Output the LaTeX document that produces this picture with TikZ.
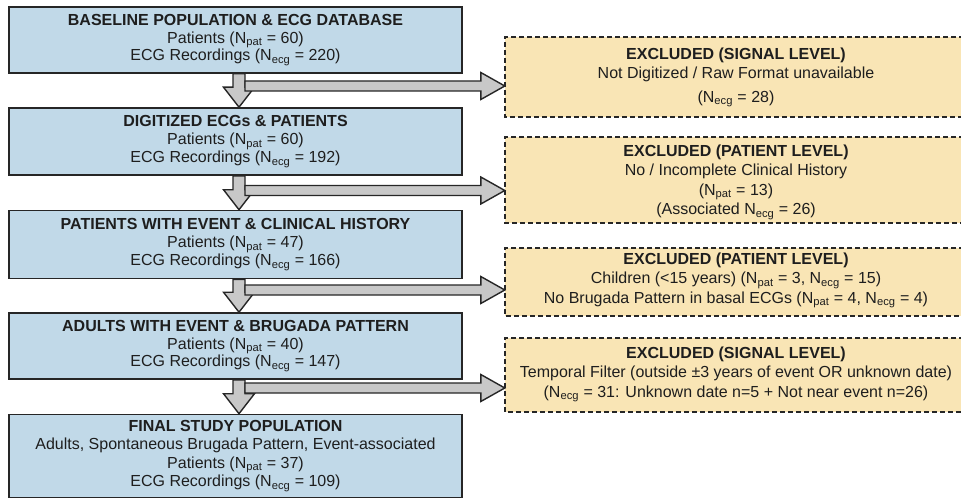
\documentclass[tikz,border=0pt]{standalone}
\usepackage{fontspec}
\setmainfont{Liberation Sans}
\usetikzlibrary{calc}
\definecolor{bluefill}{HTML}{C1D9E8}
\definecolor{yelfill}{HTML}{F9E5B5}
\definecolor{edgec}{HTML}{262626}
\definecolor{arrowgray}{HTML}{C8C8C8}
\definecolor{txtc}{HTML}{1E1E1E}
\newcommand{\lo}[1]{\textsubscript{#1}}
\newcommand{\vflow}[2]{%
  \draw[blockarrow] ($(#1.south -| ax)+(-6,0)$) -- ($(#1.south -| ax)+(6,0)$)
    -- ($(#2.north -| ax)+(6,-20)$) -- ($(#2.north -| ax)+(15.5,-20)$)
    -- (#2.north -| ax) -- ($(#2.north -| ax)+(-15.5,-20)$)
    -- ($(#2.north -| ax)+(-6,-20)$) -- cycle;}
\newcommand{\hflow}[2]{%
  \draw[blockarrow] ($(#1 -| ax)+(6,-5)$) -- ($(#2.west |- #1)+(-24,-5)$)
    -- ($(#2.west |- #1)+(-24,-13.5)$) -- (#2.west |- #1)
    -- ($(#2.west |- #1)+(-24,13.5)$) -- ($(#2.west |- #1)+(-24,5)$)
    -- ($(#1 -| ax)+(6,5)$) -- cycle;}
\newcommand{\exframe}[2]{%
  \fill[yelfill] (505,#1) rectangle (1100,#2);
  \draw[exrect] (1100,#1) -- (505,#1) -- (505,#2) -- (1100,#2);}
\begin{document}
\begin{tikzpicture}[x=1pt,y=-1pt,
  mainbox/.style={draw=edgec, line width=1.6pt, fill=bluefill, minimum width=453pt,
    inner sep=0pt, align=center, text=txtc, font=\fontsize{16}{17.8}\selectfont},
  exrect/.style={draw=edgec, line width=1.6pt, dash pattern=on 5pt off 3pt},
  extext/.style={minimum width=462pt, inner sep=0pt, align=center, text=txtc,
    font=\fontsize{16}{19.5}\selectfont},
  blockarrow/.style={draw=edgec, line width=1.4pt, fill=arrowgray, line join=miter}]
\useasboundingbox (0,0) rectangle (961,500);
\clip (0,0) rectangle (961,500);
\fill[white] (0,0) rectangle (961,500);
\coordinate (ax) at (239,0);
\coordinate (h1) at (0,86);
\coordinate (h2) at (0,190.5);
\coordinate (h3) at (0,290);
\coordinate (h4) at (0,388);

\node[mainbox, minimum height=66pt] (b1) at (235.5,40)
  {\textbf{BASELINE POPULATION \& ECG DATABASE}\\Patients (N\lo{pat} = 60)\\ECG Recordings (N\lo{ecg} = 220)};
\node[mainbox, minimum height=67pt] (b2) at (235.5,141.5)
  {\textbf{DIGITIZED ECGs \& PATIENTS}\\Patients (N\lo{pat} = 60)\\ECG Recordings (N\lo{ecg} = 192)};
\node[mainbox, minimum height=68pt] (b3) at (235.5,244.5)
  {\textbf{PATIENTS WITH EVENT \& CLINICAL HISTORY}\\Patients (N\lo{pat} = 47)\\ECG Recordings (N\lo{ecg} = 166)};
\node[mainbox, minimum height=66pt] (b4) at (235.5,346)
  {\textbf{ADULTS WITH EVENT \& BRUGADA PATTERN}\\Patients (N\lo{pat} = 40)\\ECG Recordings (N\lo{ecg} = 147)};
\node[mainbox, minimum height=83pt, font=\fontsize{16}{18.3}\selectfont] (b5) at (235.5,456)
  {\textbf{FINAL STUDY POPULATION}\\Adults, Spontaneous Brugada Pattern, Event-associated\\Patients (N\lo{pat} = 37)\\ECG Recordings (N\lo{ecg} = 109)};

\exframe{37}{117}
\node[extext] (e1) at (736,77.5)
  {\textbf{EXCLUDED (SIGNAL LEVEL)}\\Not Digitized / Raw Format unavailable\\[4pt](N\lo{ecg} = 28)};
\exframe{137}{223}
\node[extext] (e2) at (736,182)
  {\textbf{EXCLUDED (PATIENT LEVEL)}\\No / Incomplete Clinical History\\(N\lo{pat} = 13)\\(Associated N\lo{ecg} = 26)};
\exframe{248}{316}
\node[extext] (e3) at (736,280.5)
  {\textbf{EXCLUDED (PATIENT LEVEL)}\\Children (<15 years) (N\lo{pat} = 3, N\lo{ecg} = 15)\\No Brugada Pattern in basal ECGs (N\lo{pat} = 4, N\lo{ecg} = 4)};
\exframe{338}{412}
\node[extext] (e4) at (736,374.5)
  {\textbf{EXCLUDED (SIGNAL LEVEL)}\\Temporal Filter (outside ±3 years of event OR unknown date)\\(N\lo{ecg} = 31: Unknown date n=5 + Not near event n=26)};

\vflow{b1}{b2}
\vflow{b2}{b3}
\vflow{b3}{b4}
\vflow{b4}{b5}
\hflow{h1}{e1}
\hflow{h2}{e2}
\hflow{h3}{e3}
\hflow{h4}{e4}
\end{tikzpicture}
\end{document}
